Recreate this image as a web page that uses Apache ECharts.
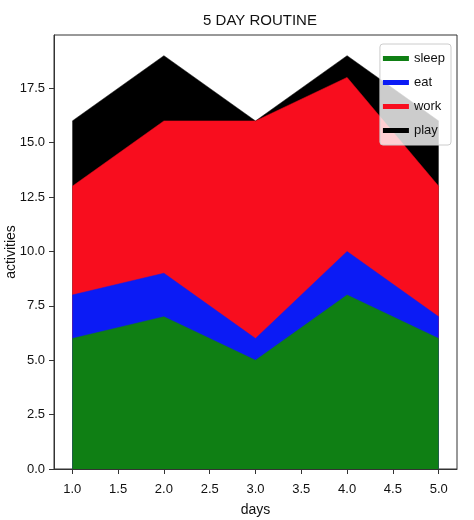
<!DOCTYPE html>
<html>
<head>
<meta charset="utf-8">
<script src="https://cdn.jsdelivr.net/npm/echarts@6/dist/echarts.min.js"></script>
<style>
  html, body { margin: 0; padding: 0; background: #fff; }
  #main { width: 474px; height: 520px; }
</style>
</head>
<body>
<div id="main"></div>
<script>
const days = [1, 2, 3, 4, 5];
const sleep = [6, 7, 5, 8, 6];
const eat = [2, 2, 1, 2, 1];
const work = [5, 7, 10, 8, 6];
const play = [3, 3, 0, 1, 3];
const names = ['sleep', 'eat', 'work', 'play'];
const colors = ['#0f7f14', '#0b1bf5', '#f80d1e', '#000000'];
const xTicks = [1, 1.5, 2, 2.5, 3, 3.5, 4, 4.5, 5];
const yTicks = [0, 2.5, 5, 7.5, 10, 12.5, 15, 17.5];

const chart = echarts.init(document.getElementById('main'));

// running totals, so each layer fills down to zero and the lower ones are drawn over it
const layers = [sleep, eat, work, play];
const totals = [];
layers.forEach((vals, k) => {
    totals.push(vals.map((v, i) => v + (k > 0 ? totals[k - 1][i] : 0)));
});

const series = [];
for (let k = layers.length - 1; k >= 0; k--) {
    series.push({
        name: names[k],
        type: 'line',
        symbol: 'none',
        data: days.map((d, i) => [d, totals[k][i]]),
        lineStyle: { width: 0.5, color: colors[k] },
        itemStyle: { color: colors[k] },
        areaStyle: { color: colors[k], opacity: 1 }
    });
}

const font = "'Liberation Sans', Arial, sans-serif";

option = {
    animation: false,
    title: {
        text: '5 DAY ROUTINE',
        left: 255,
        textAlign: 'center',
        top: 8,
        textStyle: { fontFamily: font, fontSize: 15, fontWeight: 'normal', color: '#111' }
    },
    legend: {
        data: names,
        orient: 'vertical',
        right: 23,
        top: 44,
        itemWidth: 26,
        itemHeight: 5,
        itemGap: 11,
        icon: 'rect',
        padding: [8, 6, 8, 3],
        backgroundColor: 'rgba(255,255,255,0.8)',
        borderColor: '#ccc',
        borderWidth: 1,
        borderRadius: 3,
        textStyle: { fontFamily: font, fontSize: 13, color: '#111' }
    },
    grid: {
        left: 54,
        right: 17,
        top: 35,
        bottom: 51,
        outerBoundsMode: 'none',
        containLabel: false,
        show: true,
        borderColor: '#333',
        borderWidth: 1
    },
    xAxis: {
        type: 'value',
        min: 0.8,
        max: 5.2,
        name: 'days',
        nameLocation: 'middle',
        nameGap: 34,
        nameMoveOverlap: false,
        nameTextStyle: { fontFamily: font, fontSize: 14, color: '#111' },
        splitLine: { show: false },
        axisLine: { lineStyle: { color: '#333' } },
        axisTick: { length: 5, lineStyle: { color: '#333' }, customValues: xTicks },
        axisLabel: {
            customValues: xTicks,
            formatter: (v) => v.toFixed(1),
            fontFamily: font, fontSize: 13, color: '#111', margin: 14
        }
    },
    yAxis: {
        type: 'value',
        min: 0,
        max: 19.95,
        name: 'activities',
        nameLocation: 'middle',
        nameGap: 36,
        nameMoveOverlap: false,
        nameTextStyle: { fontFamily: font, fontSize: 14, color: '#111' },
        splitLine: { show: false },
        axisLine: { show: true, lineStyle: { color: '#333' } },
        axisTick: { show: true, length: 5, lineStyle: { color: '#333' }, customValues: yTicks },
        axisLabel: {
            customValues: yTicks,
            formatter: (v) => v.toFixed(1),
            fontFamily: font, fontSize: 13, color: '#111', margin: 9
        }
    },
    series: series
};

chart.setOption(option);
</script>
</body>
</html>
